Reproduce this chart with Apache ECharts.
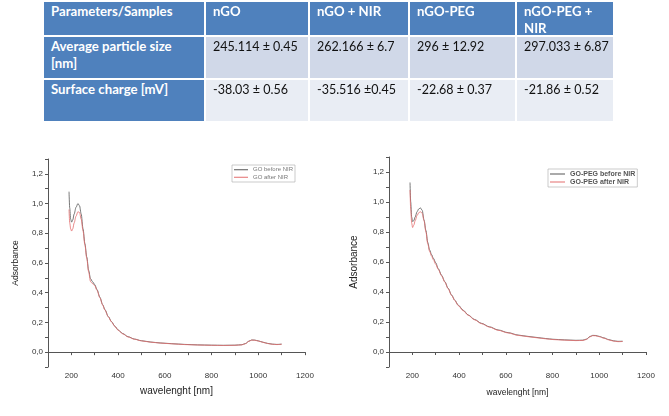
<!DOCTYPE html>
<html>
<head>
<meta charset="utf-8">
<title>GO / GO-PEG absorbance</title>
<script src="https://cdn.jsdelivr.net/npm/echarts@6.0.0/dist/echarts.min.js"></script>
<style>
  html, body { margin: 0; padding: 0; background: #fff; }
  #chart { position: absolute; left: 0; top: 0; width: 669px; height: 416px; }
  #table { position: absolute; left: 0; top: 0; }
  .cell {
    position: absolute; box-sizing: border-box;
    padding: 1px 0 0 7px;
    font-family: Lato, "Open Sans", sans-serif;
    font-size: 12.5px; line-height: 17px;
  }
  .head { background: #4f81bd; color: #fff; font-weight: bold; font-size: 13.2px; }
  .row1 { background: #d0d8e8; color: #111; }
  .row2 { background: #e9edf4; color: #111; }
</style>
</head>
<body>
<div id="chart"></div>
<div id="table"></div>
<script>
// ---- table text ----
const tableHeader = ['Parameters/Samples', 'nGO', 'nGO + NIR', 'nGO-PEG', 'nGO-PEG +<br>NIR'];
const tableRows = [
  ['Average particle size<br>[nm]', '245.114 ± 0.45', '262.166 ± 6.7', '296 ± 12.92', '297.033 ± 6.87'],
  ['Surface charge [mV]', '-38.03 ± 0.56', '-35.516 ±0.45', '-22.68 ± 0.37', '-21.86 ± 0.52']
];

// ---- spectra: GO ----
const wlGO = [190, 193, 197, 201, 206, 212, 220, 228, 235, 242, 250, 258, 266, 274, 282, 290, 300, 310, 322, 334,
  344, 358, 372, 386, 400, 420, 443, 470, 500, 540, 580, 630, 685, 740, 800, 850, 900, 930, 945, 960,
  972, 985, 1000, 1020, 1040, 1060, 1080, 1100];
const goBefore = [1.08, 0.97, 0.895, 0.875, 0.89, 0.93, 0.975, 1.0, 0.985, 0.93, 0.83, 0.73, 0.64, 0.55, 0.495, 0.475, 0.455, 0.42, 0.37, 0.32,
  0.285, 0.24, 0.205, 0.175, 0.15, 0.125, 0.104, 0.088, 0.077, 0.068, 0.062, 0.057, 0.052, 0.049, 0.047, 0.046, 0.047, 0.05, 0.058, 0.074,
  0.082, 0.081, 0.076, 0.067, 0.059, 0.054, 0.052, 0.054];
const goAfter = [0.96, 0.87, 0.83, 0.815, 0.83, 0.87, 0.915, 0.945, 0.94, 0.895, 0.815, 0.72, 0.63, 0.54, 0.475, 0.462, 0.448, 0.415, 0.366, 0.317,
  0.282, 0.238, 0.203, 0.173, 0.148, 0.123, 0.102, 0.087, 0.076, 0.067, 0.061, 0.056, 0.051, 0.048, 0.046, 0.045, 0.046, 0.049, 0.057, 0.073,
  0.081, 0.08, 0.075, 0.066, 0.058, 0.053, 0.051, 0.053];

// ---- spectra: GO-PEG ----
const wlPEG = [190, 193, 197, 201, 206, 212, 220, 228, 235, 242, 250, 258, 266, 274, 282, 290, 300, 311, 325, 339,
  353, 368, 382, 396, 418, 439, 466, 496, 530, 567, 610, 653, 695, 738, 770, 802, 850, 900, 930, 945,
  960, 972, 985, 1000, 1020, 1040, 1060, 1080, 1100];
const pegBefore = [1.13, 1.0, 0.9, 0.87, 0.875, 0.9, 0.935, 0.955, 0.96, 0.945, 0.88, 0.81, 0.73, 0.68, 0.65, 0.625, 0.595, 0.555, 0.512, 0.469,
  0.425, 0.38, 0.345, 0.313, 0.278, 0.247, 0.217, 0.191, 0.168, 0.147, 0.129, 0.113, 0.104, 0.096, 0.09, 0.085, 0.081, 0.078, 0.079, 0.086,
  0.103, 0.111, 0.11, 0.104, 0.094, 0.083, 0.075, 0.071, 0.072];
const pegAfter = [1.08, 0.95, 0.86, 0.83, 0.845, 0.875, 0.91, 0.93, 0.935, 0.925, 0.875, 0.8, 0.72, 0.67, 0.64, 0.615, 0.585, 0.55, 0.508, 0.466,
  0.422, 0.377, 0.342, 0.31, 0.275, 0.245, 0.215, 0.189, 0.166, 0.145, 0.127, 0.111, 0.102, 0.094, 0.088, 0.083, 0.079, 0.076, 0.077, 0.084,
  0.101, 0.109, 0.108, 0.102, 0.092, 0.081, 0.073, 0.069, 0.07];

// build the table (cell boxes only, text comes from the arrays above)
const colEdges = [[44, 204], [206, 308], [310, 408], [410, 515], [517, 613]];
const rowEdges = [[2, 35], [37, 78], [80, 121]];
const tableEl = document.getElementById('table');
function addCell(html, cls, c, r) {
  const d = document.createElement('div');
  d.className = 'cell ' + cls;
  d.style.left = colEdges[c][0] + 'px';
  d.style.width = (colEdges[c][1] - colEdges[c][0]) + 'px';
  d.style.top = rowEdges[r][0] + 'px';
  d.style.height = (rowEdges[r][1] - rowEdges[r][0]) + 'px';
  d.innerHTML = html;
  tableEl.appendChild(d);
}
tableHeader.forEach((t, c) => addCell(t, 'head', c, 0));
tableRows.forEach((row, r) => {
  row.forEach((t, c) => addCell(t, c === 0 ? 'head' : 'row' + (r + 1), c, r + 1));
});

const pairs = (xs, ys) => xs.map((x, i) => [x, ys[i]]);

const myChart = echarts.init(document.getElementById('chart'));

const font = 'Liberation Sans, Arial, sans-serif';
const commaLabel = v => {
  const k = Math.round(v * 10);
  return (k >= 0 && k % 2 === 0) ? (k / 10).toFixed(1).replace('.', ',') : '';
};
const wlLabel = v => (v >= 200 && v % 200 === 0) ? String(v) : '';

function xAxisFor(gridIndex, nameSize, nameGap) {
  return {
    gridIndex, type: 'value', min: 100, max: 1200, interval: 100,
    name: 'wavelenght [nm]', nameLocation: 'middle', nameGap,
    nameTextStyle: { fontFamily: font, fontSize: nameSize, color: '#222' },
    axisLine: { show: true, lineStyle: { color: '#555', width: 1 } },
    axisTick: { show: true, length: 3, lineStyle: { color: '#555' } },
    axisLabel: { formatter: wlLabel, fontFamily: font, fontSize: 8, color: '#333', margin: 5 },
    splitLine: { show: false }
  };
}
function yAxisFor(gridIndex, nameSize, nameGap) {
  return {
    gridIndex, type: 'value', min: -0.1, max: 1.3, interval: 0.1,
    name: 'Adsorbance', nameLocation: 'middle', nameGap,
    nameTextStyle: { fontFamily: font, fontSize: nameSize, color: '#222' },
    axisLine: { show: true, lineStyle: { color: '#555', width: 1 } },
    axisTick: { show: true, length: 3, lineStyle: { color: '#555' } },
    axisLabel: { formatter: commaLabel, fontFamily: font, fontSize: 8, color: '#333', margin: 5 },
    splitLine: { show: false }
  };
}
function lineSeries(name, data, idx, color) {
  return {
    name, type: 'line', data, xAxisIndex: idx, yAxisIndex: idx,
    symbol: 'none', showSymbol: false, smooth: 0.3, smoothMonotone: 'x',
    lineStyle: { color, width: 0.8 }, itemStyle: { color },
    animation: false
  };
}

const option = {
  backgroundColor: '#fff',
  animation: false,
  grid: [
    { left: 48, top: 159, width: 257, height: 208 },
    { left: 389, top: 157, width: 257, height: 210 }
  ],
  legend: [
    {
      data: ['GO before NIR', 'GO after NIR'],
      left: 232, top: 165, orient: 'vertical',
      borderColor: '#aaa', borderWidth: 0.6, padding: [1, 2, 1, 2],
      itemGap: 0, itemWidth: 14, itemHeight: 1, itemTextGap: 3, icon: 'rect',
      textStyle: { fontFamily: font, fontSize: 6, color: '#777', lineHeight: 7.5 }
    },
    {
      data: ['GO-PEG before NIR', 'GO-PEG after NIR'],
      left: 548, top: 169, orient: 'vertical',
      borderColor: '#aaa', borderWidth: 0.6, padding: [1, 2, 1, 2],
      itemGap: 0, itemWidth: 15, itemHeight: 1, itemTextGap: 2, icon: 'rect',
      textStyle: { fontFamily: font, fontSize: 7, fontWeight: 'bold', color: '#555', lineHeight: 8 }
    }
  ],
  xAxis: [xAxisFor(0, 10, 19), xAxisFor(1, 8.5, 21)],
  yAxis: [yAxisFor(0, 8.5, 28), yAxisFor(1, 10, 30)],
  series: [
    lineSeries('GO before NIR', pairs(wlGO, goBefore), 0, '#555555'),
    lineSeries('GO after NIR', pairs(wlGO, goAfter), 0, '#e36d6d'),
    lineSeries('GO-PEG before NIR', pairs(wlPEG, pegBefore), 1, '#555555'),
    lineSeries('GO-PEG after NIR', pairs(wlPEG, pegAfter), 1, '#e36d6d')
  ]
};

myChart.setOption(option);
</script>
</body>
</html>
